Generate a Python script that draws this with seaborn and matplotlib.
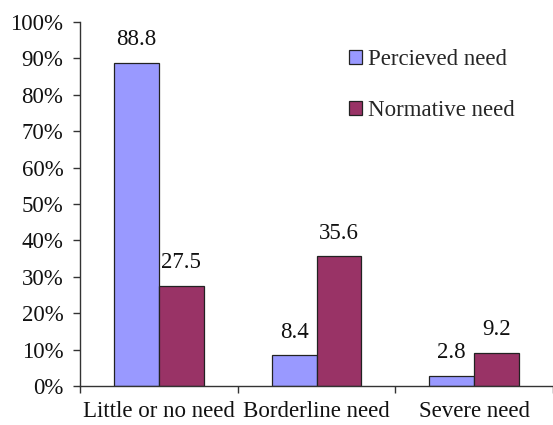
import matplotlib
matplotlib.use("Agg")
import matplotlib.pyplot as plt
import seaborn as sns
import pandas as pd
from matplotlib.ticker import FixedLocator, PercentFormatter

categories = ["Little or no need", "Borderline need", "Severe need"]
series_names = ["Percieved need", "Normative need"]
perceived = [88.8, 8.4, 2.8]
normative = [27.5, 35.6, 9.2]
y_ticks = [0, 10, 20, 30, 40, 50, 60, 70, 80, 90, 100]

df = pd.DataFrame({
    "category": categories * 2,
    "series": [series_names[0]] * 3 + [series_names[1]] * 3,
    "value": perceived + normative,
})

sns.set_style("white")
plt.rcParams["font.family"] = ["Liberation Serif", "DejaVu Serif"]
FS = 16.5

fig = plt.figure(figsize=(5.53, 4.25), dpi=100)
ax = fig.add_axes([80 / 553, 39 / 425, 473 / 553, 364 / 425])

palette = {series_names[0]: "#9999FF", series_names[1]: "#993366"}
sns.barplot(data=df, x="category", y="value", hue="series", order=categories,
            hue_order=series_names, palette=palette, width=0.57, saturation=1,
            edgecolor="#222222", linewidth=0.9, ax=ax)

for container in ax.containers:
    ax.bar_label(container, fmt="%.1f", padding=9, fontsize=FS, color="#111111")

ax.set_ylim(0, 100)
ax.set_xlim(-0.5, 2.5)
ax.yaxis.set_major_locator(FixedLocator(y_ticks))
ax.yaxis.set_major_formatter(PercentFormatter(decimals=0))
ax.set_xlabel("")
ax.set_ylabel("")

for side in ["top", "right"]:
    ax.spines[side].set_visible(False)
for side in ["left", "bottom"]:
    ax.spines[side].set_color("#333333")
    ax.spines[side].set_linewidth(1.0)

ax.tick_params(axis="y", which="major", left=True, length=5, width=1.0,
               color="#333333", labelsize=FS, pad=7, labelcolor="#111111")
ax.tick_params(axis="x", which="major", bottom=False, length=0,
               labelsize=FS, pad=11, labelcolor="#111111")
ax.xaxis.set_minor_locator(FixedLocator([-0.5, 0.5, 1.5, 2.5]))
ax.tick_params(axis="x", which="minor", bottom=True, length=5, width=1.0,
               color="#333333")

handles, labels = ax.get_legend_handles_labels()
ax.legend(handles, labels, loc="upper left", bbox_to_anchor=(349 / 553, 1 - 49 / 425),
          bbox_transform=fig.transFigure, frameon=False, fontsize=FS,
          handlelength=0.55, handleheight=0.55, handletextpad=0.3,
          labelspacing=1.3, borderaxespad=0, borderpad=0)

fig.savefig("out.png", dpi=100)
